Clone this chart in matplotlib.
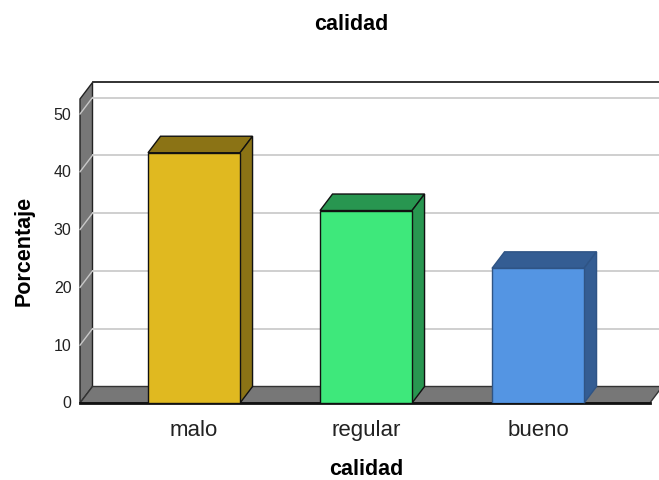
import matplotlib.pyplot as plt
from matplotlib.patches import Polygon

plt.rcParams["font.family"] = ["Liberation Sans", "DejaVu Sans"]

categories = ["malo", "regular", "bueno"]
percentages = [43.3, 33.3, 23.3]
front_colors = ["#e0b920", "#3ee87b", "#5495e3"]
shade_colors = ["#8b7315", "#289650", "#345d93"]
edge_colors = ["#111111", "#111111", "#2f5485"]
y_ticks = [0, 10, 20, 30, 40, 50]

fig = plt.figure(figsize=(6.59, 4.81), dpi=100)
# axes placed so that 1 category step ~172 px and 10 % ~58 px
ax = fig.add_axes([80 / 659, 77 / 481, 579 / 659, 344 / 481])
ax.set_xlim(-0.663, -0.663 + 579 / 172)
ax.set_ylim(0, 344 / 5.78)
ax.axis("off")

# depth offset of the 3d box, in data units
DX = 12.5 / 172
DY = 16.5 / 5.78
x0, x1 = -0.663, 2.65
ytop = 52.6
bw = 0.535


def poly(pts, fc, ec, lw=1.0, z=1):
    p = Polygon(pts, closed=True, facecolor=fc, edgecolor=ec, linewidth=lw,
                zorder=z, clip_on=False, joinstyle="miter")
    ax.add_patch(p)


# back wall
poly([(x0 + DX, DY), (x1 + DX + 0.2, DY), (x1 + DX + 0.2, ytop + DY),
      (x0 + DX, ytop + DY)], "white", "none", z=0)
ax.plot([x0 + DX, x1 + DX + 0.2], [ytop + DY, ytop + DY], color="#222222",
        lw=1.3, clip_on=False, zorder=1)
# left wall
poly([(x0, 0), (x0, ytop), (x0 + DX, ytop + DY), (x0 + DX, DY)],
     "#777777", "#222222", lw=1.0, z=1)
# gridlines on back and left walls
for t in y_ticks[1:]:
    ax.plot([x0 + DX, x1 + DX + 0.2], [t + DY, t + DY], color="#cfcfcf",
            lw=1.4, clip_on=False, zorder=1)
    ax.plot([x0, x0 + DX], [t, t + DY], color="#c8c8c8", lw=1.0,
            clip_on=False, zorder=2)
for t in y_ticks:
    ax.text(x0 - 0.05, t, str(t), ha="right", va="center", fontsize=11.5,
            color="#222222")
# floor
poly([(x0, 0), (x1, 0), (x1 + DX, DY), (x0 + DX, DY)],
     "#777777", "#333333", lw=1.0, z=2)
ax.plot([x0, x1], [0, 0], color="#111111", lw=2.0, clip_on=False, zorder=3)

# bars
for i, v in enumerate(percentages):
    left, right = i - bw / 2, i + bw / 2
    ax.bar(i, v, width=bw, color=front_colors[i], edgecolor=edge_colors[i],
           linewidth=1.0, zorder=5)
    poly([(left, v), (right, v), (right + DX, v + DY), (left + DX, v + DY)],
         shade_colors[i], edge_colors[i], z=4)
    poly([(right, 0), (right + DX, DY), (right + DX, v + DY), (right, v)],
         shade_colors[i], edge_colors[i], z=4)
    ax.text(i, -2.8, categories[i], ha="center", va="top", fontsize=16,
            color="#222222")

fig.text(351 / 659, 1 - 25 / 481, "calidad", ha="center", va="center",
         fontsize=15.5, fontweight="bold")
fig.text(366 / 659, 1 - 470 / 481, "calidad", ha="center", va="center",
         fontsize=15.5, fontweight="bold")
fig.text(24 / 659, 1 - 251 / 481, "Porcentaje", ha="center", va="center",
         rotation=90, fontsize=15.5, fontweight="bold")

fig.savefig("out.png", dpi=100)
